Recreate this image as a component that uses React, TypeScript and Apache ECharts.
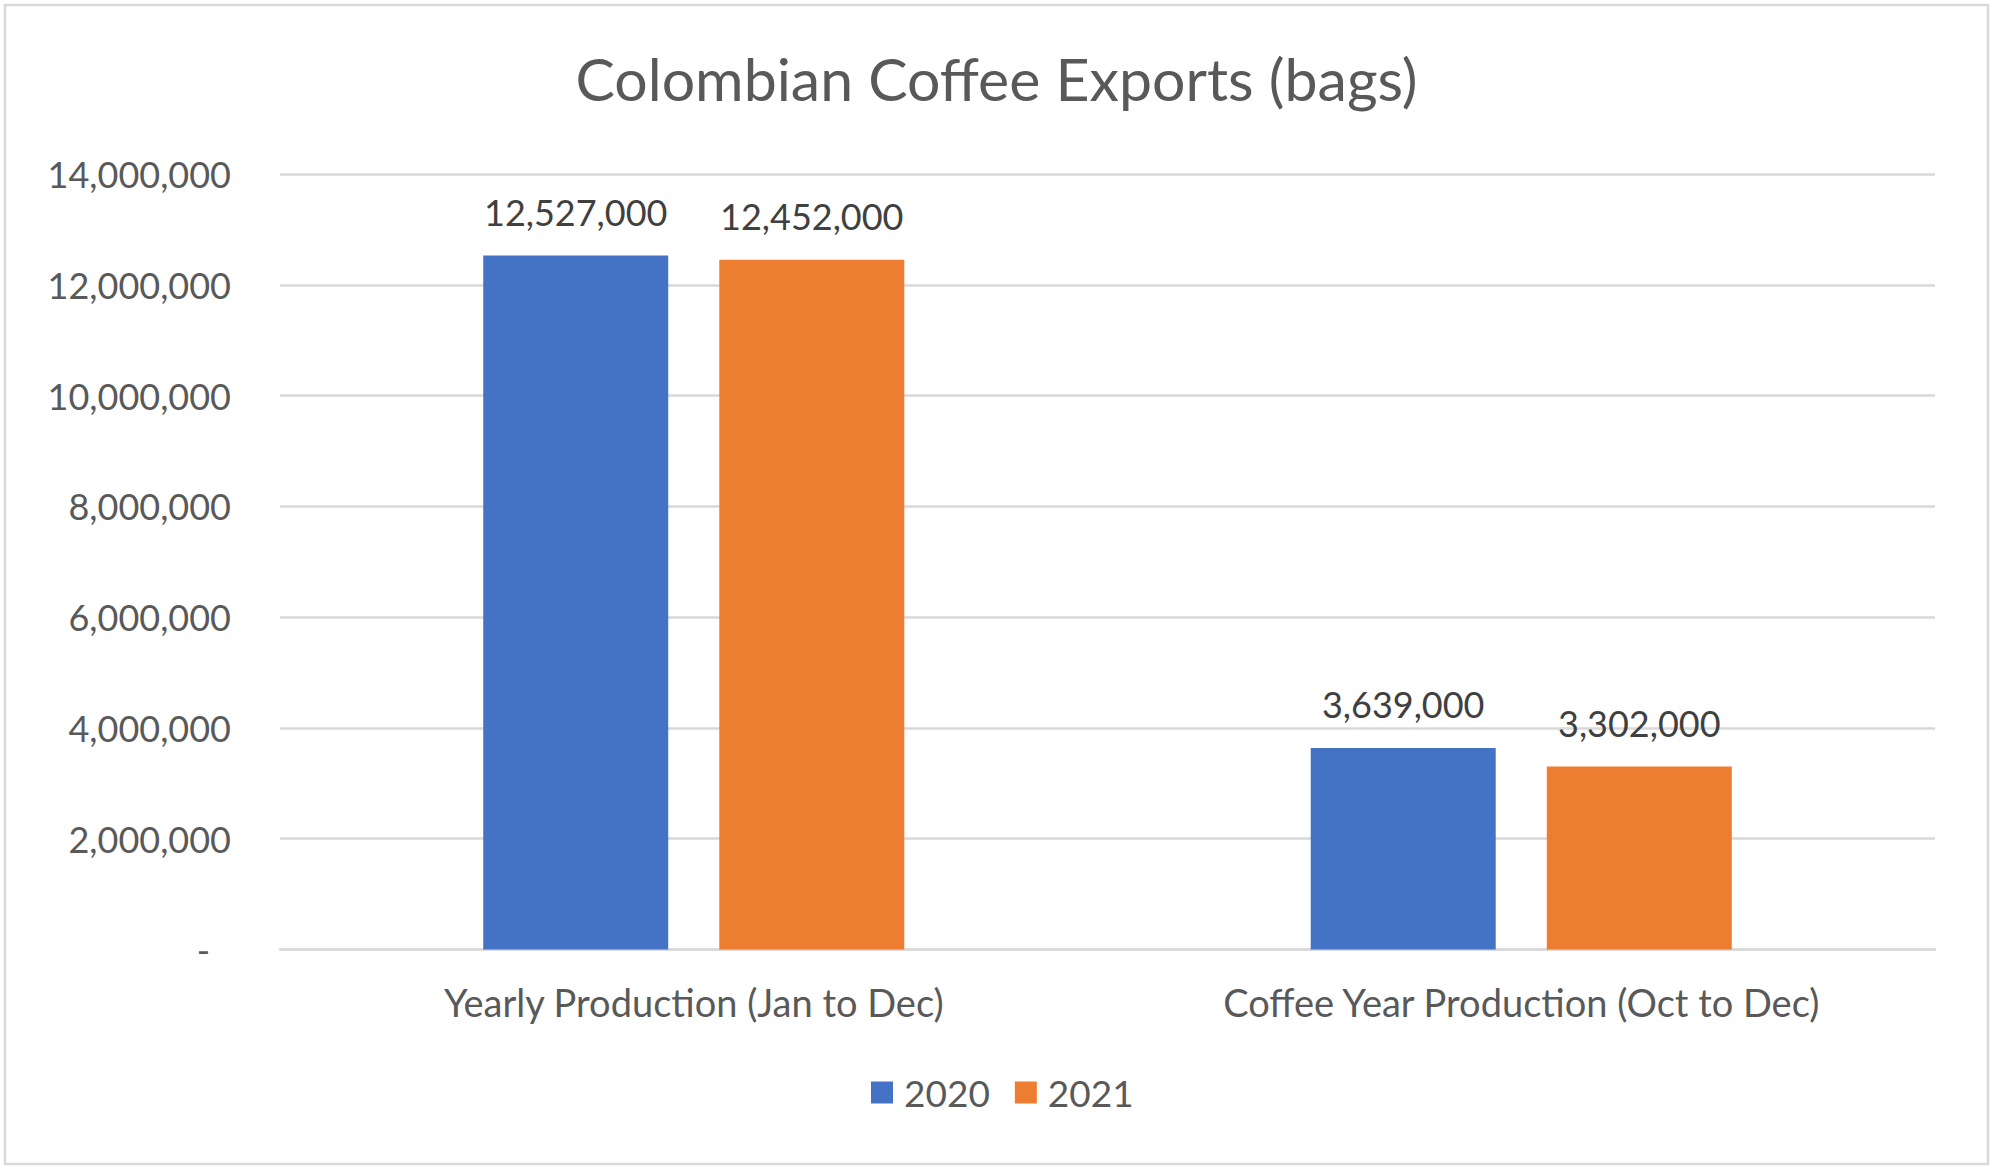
import { useEffect, useRef } from 'react';
import * as echarts from 'echarts';

const categories = ['Yearly Production (Jan to Dec)', 'Coffee Year Production (Oct to Dec)'];
const seriesNames = ['2020', '2021'];
const values2020 = [12527000, 3639000];
const values2021 = [12452000, 3302000];
const seriesColors = ['#4472C4', '#ED7D31'];

const FONT = 'Lato';

export default function App() {
  const chartRef = useRef<HTMLDivElement>(null);
  useEffect(() => {
    document.body.style.margin = '0';
    if (!chartRef.current) return;
    const chart = echarts.init(chartRef.current, undefined, { renderer: 'svg' });
    const fmt = (v: number) => v.toLocaleString('en-US');
    const barLabel = {
      show: true,
      position: 'top',
      distance: 26,
      color: '#404040',
      fontSize: 36,
      fontFamily: FONT,
      formatter: (p: { value: number }) => fmt(p.value),
    };
    chart.setOption({
      animation: false,
      backgroundColor: '#fff',
      title: {
        text: 'Colombian Coffee Exports (bags)',
        left: 'center',
        top: 44,
        textStyle: { fontSize: 59, fontWeight: 'normal', color: '#595959', fontFamily: FONT },
      },
      graphic: [
        {
          type: 'rect',
          shape: { x: 5, y: 5, width: 1983, height: 1159 },
          style: { fill: 'none', stroke: '#d9d9d9', lineWidth: 2.5 },
          silent: true,
        },
      ],
      grid: { left: 280, right: 58, top: 174, bottom: 218.5 },
      legend: {
        data: seriesNames,
        left: 866,
        top: 1069,
        icon: 'rect',
        itemWidth: 22,
        itemHeight: 22,
        itemGap: 25,
        textStyle: { fontSize: 37, color: '#595959', fontFamily: FONT, padding: [0, 0, 0, 6] },
      },
      xAxis: {
        type: 'category',
        data: categories,
        axisLine: { lineStyle: { color: '#d9d9d9', width: 2.5 } },
        axisTick: { show: false },
        axisLabel: { fontSize: 38, color: '#595959', fontFamily: FONT, margin: 33 },
      },
      yAxis: {
        type: 'value',
        min: 0,
        max: 14000000,
        interval: 2000000,
        axisLine: { show: false },
        axisTick: { show: false },
        splitLine: { lineStyle: { color: '#d9d9d9', width: 2.5 } },
        axisLabel: {
          fontSize: 36,
          color: '#595959',
          fontFamily: FONT,
          margin: 49,
          formatter: (v: number) => (v === 0 ? '{z|-}' : fmt(v)),
          rich: { z: { fontSize: 36, color: '#595959', fontFamily: FONT, padding: [0, 21, 0, 0] } },
        },
      },
      series: [
        {
          name: seriesNames[0],
          type: 'bar',
          data: values2020,
          barWidth: 185,
          barGap: '27.6%',
          itemStyle: { color: seriesColors[0] },
          label: barLabel,
        },
        {
          name: seriesNames[1],
          type: 'bar',
          data: values2021,
          barWidth: 185,
          barGap: '27.6%',
          itemStyle: { color: seriesColors[1] },
          label: barLabel,
        },
      ],
    });
    return () => {
      chart.dispose();
    };
  }, []);
  return <div ref={chartRef} style={{ width: 1993, height: 1168 }} />;
}
